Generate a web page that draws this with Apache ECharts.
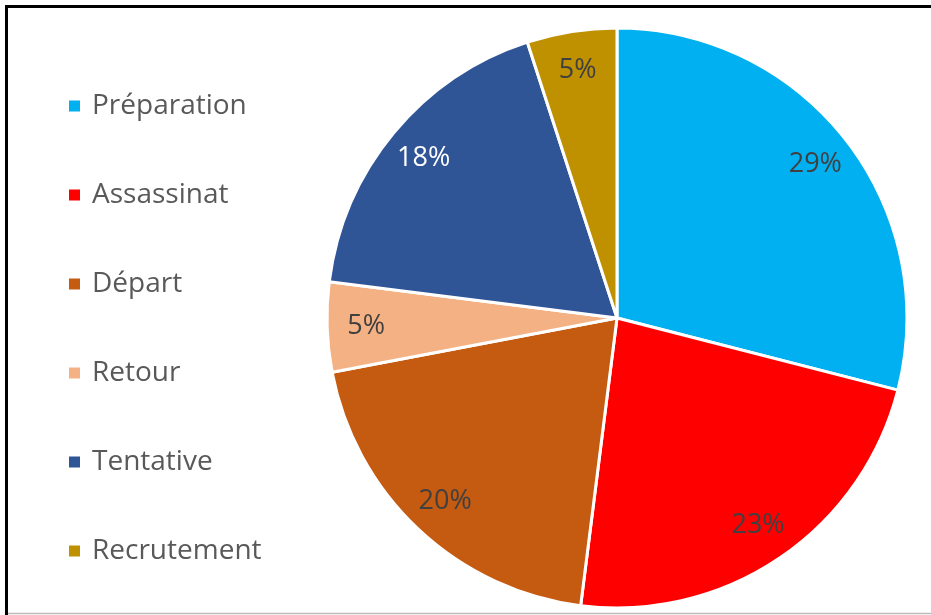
<!DOCTYPE html>
<html>
<head>
<meta charset="utf-8">
<script src="https://cdn.jsdelivr.net/npm/echarts@6/dist/echarts.min.js"></script>
<style>
  html, body { margin: 0; padding: 0; background: #fff; }
  #chart { width: 931px; height: 615px; }
</style>
</head>
<body>
<div id="chart"></div>
<script>
// Parts of the whole, in drawing order (clockwise from 12 o'clock)
const categories = ['Préparation', 'Assassinat', 'Départ', 'Retour', 'Tentative', 'Recrutement'];
const shares = [29, 23, 20, 5, 18, 5];
const sliceColors = ['#00B0F0', '#FF0000', '#C55A11', '#F4B183', '#2F5597', '#BF9000'];
const labelColors = ['#404040', '#404040', '#404040', '#404040', '#FFFFFF', '#404040'];

const pieData = categories.map((name, i) => ({
  name: name,
  value: shares[i],
  itemStyle: { color: sliceColors[i] }
}));

// Transparent ring used only to place the percentage labels near the outer edge
const labelData = categories.map((name, i) => ({
  name: name,
  value: shares[i],
  label: { color: labelColors[i] }
}));

const chart = echarts.init(document.getElementById('chart'), null, { renderer: 'canvas' });

chart.setOption({
  backgroundColor: '#ffffff',
  animation: false,
  legend: {
    orient: 'vertical',
    left: 67,
    top: 91,
    padding: 0,
    itemWidth: 13,
    itemHeight: 13,
    itemGap: 59,
    icon: 'rect',
    selectedMode: false,
    data: categories,
    textStyle: {
      fontFamily: 'Open Sans',
      fontSize: 28,
      lineHeight: 30,
      color: '#595959',
      padding: [0, 0, 0, 6]
    }
  },
  series: [
    {
      type: 'pie',
      center: [617, 318],
      radius: [0, 290],
      startAngle: 90,
      clockwise: true,
      silent: true,
      data: pieData,
      itemStyle: { borderColor: '#ffffff', borderWidth: 3 },
      label: { show: false },
      labelLine: { show: false }
    },
    {
      type: 'pie',
      center: [617, 318],
      radius: [206, 290],
      startAngle: 90,
      clockwise: true,
      silent: true,
      legendHoverLink: false,
      data: labelData,
      itemStyle: { color: 'rgba(0,0,0,0)' },
      label: {
        show: true,
        position: 'inside',
        formatter: '{c}%',
        fontFamily: 'Open Sans',
        fontSize: 27
      },
      labelLine: { show: false }
    }
  ],
  graphic: [
    { type: 'line', shape: { x1: 5, y1: 6.5, x2: 931, y2: 6.5 }, style: { stroke: '#000', lineWidth: 3 } },
    { type: 'line', shape: { x1: 6.5, y1: 5, x2: 6.5, y2: 615 }, style: { stroke: '#000', lineWidth: 3 } },
    { type: 'line', shape: { x1: 8, y1: 613.5, x2: 931, y2: 613.5 }, style: { stroke: '#BBBBBB', lineWidth: 1.5 } }
  ]
});
</script>
</body>
</html>
